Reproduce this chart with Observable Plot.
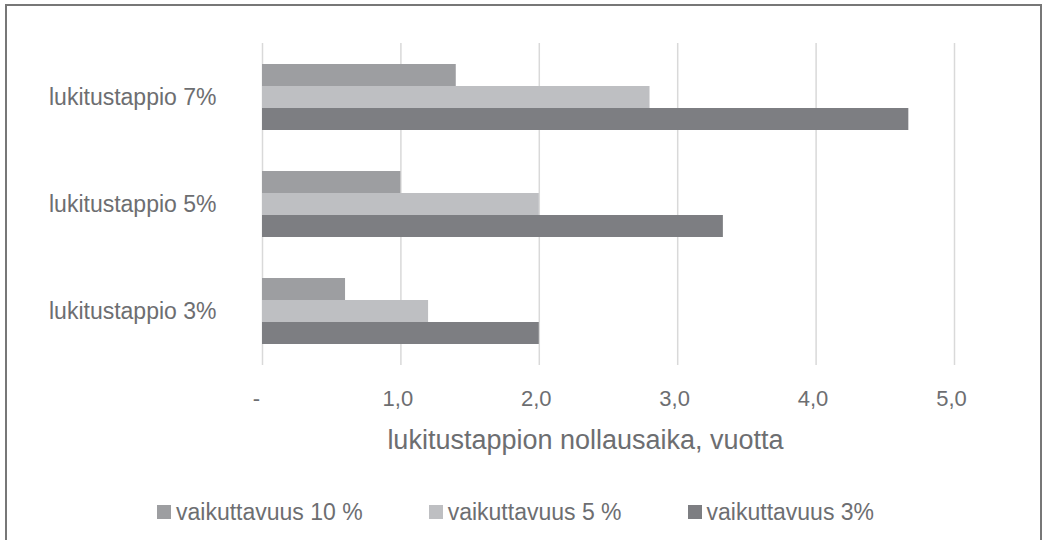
<!DOCTYPE html>
<html>
<head>
<meta charset="utf-8">
<script src="https://cdn.jsdelivr.net/npm/d3@7"></script>
<script src="https://cdn.jsdelivr.net/npm/@observablehq/plot@0.6"></script>
<style>
  html, body { margin: 0; padding: 0; background: #fff; }
  body { width: 1043px; height: 540px; position: relative; overflow: hidden; font-family: "Liberation Sans", Arial, sans-serif; }
  #frame { position: absolute; left: 5px; top: 4px; width: 1033px; height: 600px; border: 2px solid #777; box-sizing: content-box; }
  #chart { position: absolute; left: 0; top: 0; }
  #legend { position: absolute; left: 157px; top: 497px; }
  .lg-swatches { display: flex !important; align-items: center; min-height: 30px; margin: 0 !important; }
  .lg-swatch { margin-right: 66px !important; }
  .lg-swatch > svg { margin-right: 5px !important; }
</style>
</head>
<body>
<div id="frame"></div>
<div id="chart"></div>
<div id="legend"></div>
<script>
// ---- data ----
const categories = ["lukitustappio 7%", "lukitustappio 5%", "lukitustappio 3%"];
const series = ["vaikuttavuus 10 %", "vaikuttavuus 5 %", "vaikuttavuus 3%"];
const values10 = [1.4, 1.0, 0.6];
const values5 = [2.8, 2.0, 1.2];
const values3 = [4.67, 3.33, 2.0];
const tickValues = [0, 1, 2, 3, 4, 5];
const tickLabels = ["-\u00a0\u00a0", "1,0\u00a0", "2,0\u00a0", "3,0\u00a0", "4,0\u00a0", "5,0\u00a0"];
const axisTitle = "lukitustappion nollausaika, vuotta";
const colors = ["#9d9ea1", "#bebfc2", "#7d7e82"];

const seriesValues = [values10, values5, values3];
const rows = [];
categories.forEach((c, i) => {
  series.forEach((s, j) => rows.push({category: c, series: s, value: seriesValues[j][i]}));
});

const textColor = "#6d6e71";
const font = "'Liberation Sans', Arial, sans-serif";

const plot = Plot.plot({
  width: 1043,
  height: 470,
  marginTop: 43,
  marginBottom: 105,
  marginLeft: 262,
  marginRight: 89,
  style: {fontFamily: font, color: textColor, background: "transparent", overflow: "visible"},
  x: {domain: [0, 5]},
  y: {domain: series, padding: 0, axis: null},
  fy: {domain: categories, paddingInner: 0.385, paddingOuter: 0.1925, axis: null, label: null},
  color: {domain: series, range: colors},
  marks: [
    // gridlines drawn once from the top facet, stretched over the whole plot area
    Plot.ruleX(tickValues, {x: d => d, fy: () => categories[0], stroke: "#d9d9d9", strokeWidth: 1.5, insetTop: -21, insetBottom: -235}),
    Plot.barX(rows, {x: "value", y: "series", fy: "category", fill: "series"}),
    Plot.axisFy({anchor: "left", tickSize: 0, tickPadding: 46, fontSize: 23, label: null, fill: textColor}),
    Plot.axisX({ticks: tickValues, tickFormat: d => tickLabels[tickValues.indexOf(d)], tickSize: 0, tickPadding: 46, fontSize: 22, label: null, fill: textColor}),
    Plot.text([axisTitle], {facet: "super", frameAnchor: "bottom", lineAnchor: "middle", dy: 96, dx: -23, fontSize: 27, fill: textColor, text: d => d})
  ]
});
document.getElementById("chart").appendChild(plot);

const legend = Plot.legend({
  color: {domain: series, range: colors},
  swatchSize: 14,
  className: "lg",
  style: {fontSize: "23px", fontFamily: font, color: textColor}
});
document.getElementById("legend").appendChild(legend);
</script>
</body>
</html>
